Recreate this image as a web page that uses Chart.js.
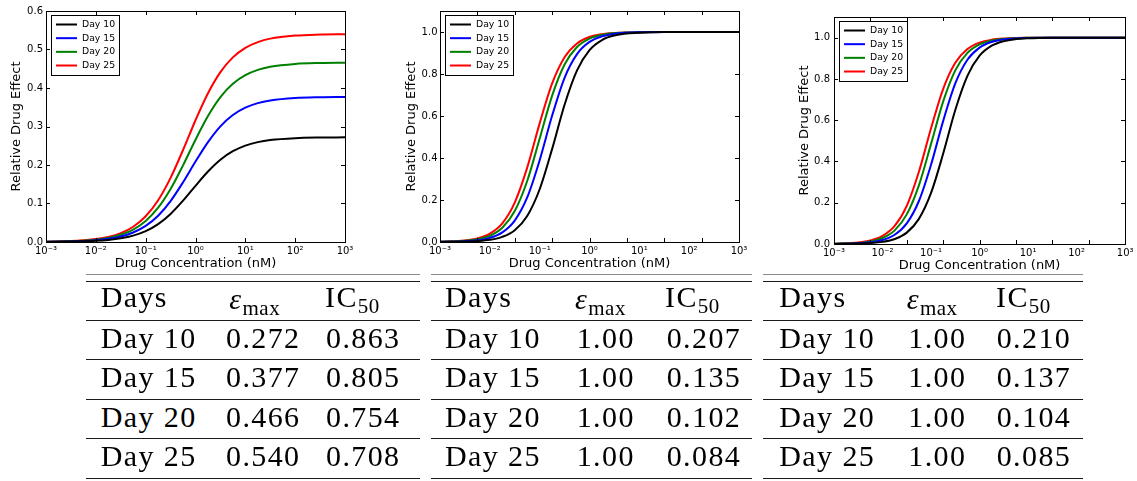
<!DOCTYPE html>
<html><head><meta charset="utf-8">
<script src="https://cdn.jsdelivr.net/npm/chart.js@4.4.1/dist/chart.umd.min.js"></script>
<style>
html,body{margin:0;padding:0;background:#fff;}
body{width:1137px;height:481px;overflow:hidden;position:relative;}
canvas{position:absolute;top:0;}
.rule{position:absolute;height:1px;background:#1a1a1a;}
.rule.thin{background:#8a8a8a;}
.cell{position:absolute;font-family:"Liberation Serif","Times New Roman",serif;font-size:30px;line-height:30px;white-space:nowrap;color:#000;letter-spacing:1.4px;}
.cell sub{font-size:21px;vertical-align:-6px;line-height:0;letter-spacing:0.5px;}
.cell i{font-style:italic;}
</style></head>
<body>
<canvas id="c1" width="390" height="275" style="left:0px"></canvas>
<canvas id="c2" width="390" height="275" style="left:390px"></canvas>
<canvas id="c3" width="357" height="275" style="left:780px"></canvas>
<div id="tables"></div>
<script>
// ---------------- data ----------------
const seriesNames = ['Day 10', 'Day 15', 'Day 20', 'Day 25'];
const seriesColors = ['#000000', '#0000ff', '#008000', '#ff0000'];
const concentrations = [0.001, 0.00316, 0.00562, 0.01, 0.0178, 0.0316, 0.0562, 0.1, 0.178, 0.316, 0.562, 1, 1.78, 3.16, 5.62, 10, 17.8, 31.6, 100, 316, 1000];

const black1 = [0.0003, 0.0010, 0.0018, 0.0031, 0.0055, 0.0096, 0.0166, 0.0282, 0.0465, 0.0729, 0.1073, 0.146, 0.1831, 0.2137, 0.2358, 0.2504, 0.2594, 0.2648, 0.2697, 0.2713, 0.2718];
const blue1  = [0.0005, 0.0015, 0.0026, 0.0046, 0.0082, 0.0142, 0.0246, 0.0417, 0.0683, 0.1063, 0.155, 0.2089, 0.2595, 0.3005, 0.3298, 0.3489, 0.3607, 0.3676, 0.374, 0.376, 0.3767];
const green1 = [0.0006, 0.0019, 0.0034, 0.0061, 0.0107, 0.0187, 0.0323, 0.0546, 0.089, 0.1376, 0.199, 0.2657, 0.3272, 0.3763, 0.4109, 0.4333, 0.447, 0.4551, 0.4625, 0.4649, 0.4657];
const red1   = [0.0008, 0.0024, 0.0043, 0.0075, 0.0132, 0.0231, 0.0397, 0.0668, 0.1085, 0.1666, 0.239, 0.3162, 0.3862, 0.4412, 0.4796, 0.5043, 0.5193, 0.5282, 0.5362, 0.5388, 0.5396];

const black2 = [0.0003, 0.0019, 0.0045, 0.0105, 0.0246, 0.0563, 0.124, 0.2513, 0.4433, 0.6537, 0.8174, 0.9139, 0.9618, 0.9835, 0.993, 0.997, 0.9987, 0.9995, 0.9999, 1.0, 1.0];
const blue2  = [0.0006, 0.0036, 0.0084, 0.0198, 0.0457, 0.1019, 0.2121, 0.3896, 0.6021, 0.7821, 0.8949, 0.9528, 0.9795, 0.9913, 0.9963, 0.9984, 0.9993, 0.9998, 1.0, 1.0, 1.0];
const green2 = [0.001, 0.0054, 0.0128, 0.0298, 0.0678, 0.1472, 0.2904, 0.4926, 0.6971, 0.8452, 0.9283, 0.9685, 0.9864, 0.9942, 0.9976, 0.999, 0.9996, 0.9999, 1.0, 1.0, 1.0];
const red2   = [0.0013, 0.0073, 0.017, 0.0395, 0.0888, 0.1877, 0.354, 0.565, 0.755, 0.8796, 0.9454, 0.9762, 0.9898, 0.9957, 0.9982, 0.9992, 0.9997, 0.9999, 1.0, 1.0, 1.0];

const black3 = [0.0003, 0.0019, 0.0044, 0.0103, 0.0241, 0.0552, 0.1218, 0.2474, 0.4382, 0.649, 0.8143, 0.9123, 0.961, 0.9832, 0.9929, 0.997, 0.9987, 0.9995, 0.9999, 1.0, 1.0];
const blue3  = [0.0006, 0.0035, 0.0082, 0.0194, 0.0447, 0.0999, 0.2084, 0.3843, 0.5968, 0.7783, 0.8928, 0.9518, 0.9791, 0.9912, 0.9963, 0.9984, 0.9993, 0.9998, 1.0, 1.0, 1.0];
const green3 = [0.0009, 0.0052, 0.0124, 0.029, 0.066, 0.1436, 0.2844, 0.4853, 0.691, 0.8414, 0.9264, 0.9676, 0.986, 0.994, 0.9975, 0.999, 0.9996, 0.9999, 1.0, 1.0, 1.0];
const red3   = [0.0013, 0.0072, 0.0167, 0.0389, 0.0874, 0.1851, 0.3501, 0.5608, 0.7518, 0.8778, 0.9445, 0.9758, 0.9896, 0.9956, 0.9982, 0.9992, 0.9997, 0.9999, 1.0, 1.0, 1.0];

const xTickValues = [0.001, 0.01, 0.1, 1, 10, 100, 1000];
const xTickLabels = ['10\u207B\u00B3', '10\u207B\u00B2', '10\u207B\u00B9', '10\u2070', '10\u00B9', '10\u00B2', '10\u00B3'];
const xMarks1 = [0.001, 0.01, 0.1, 1, 10, 100, 1000];
const xMarks23 = [0.001, 0.00562, 0.0316, 0.178, 1, 5.62, 31.6, 178, 1000];
const yTicks1 = [0, 0.1, 0.2, 0.3, 0.4, 0.5, 0.6];
const yTicks23 = [0, 0.2, 0.4, 0.6, 0.8, 1.0];
const xTitle = 'Drug Concentration (nM)';
const yTitle = 'Relative Drug Effect';

const tableHeaders = ['Days', 'emax', 'IC50'];
const tableDays = ['Day 10', 'Day 15', 'Day 20', 'Day 25'];
const emax1 = ['0.272', '0.377', '0.466', '0.540'];
const ic1 = ['0.863', '0.805', '0.754', '0.708'];
const emax2 = ['1.00', '1.00', '1.00', '1.00'];
const ic2 = ['0.207', '0.135', '0.102', '0.084'];
const emax3 = ['1.00', '1.00', '1.00', '1.00'];
const ic3 = ['0.210', '0.137', '0.104', '0.085'];

// ---------------- charts ----------------
const framePlugin = {
  id: 'frame',
  afterDatasetsDraw(chart, args, opts) {
    const {ctx, chartArea: a} = chart;
    const xs = chart.scales.x, ys = chart.scales.y;
    ctx.save();
    ctx.strokeStyle = '#000';
    ctx.lineWidth = 1;
    const L = Math.round(a.left), R = Math.round(a.right), T = Math.round(a.top), B = Math.round(a.bottom);
    ctx.strokeRect(L + 0.5, T + 0.5, R - L, B - T);
    const tl = 4;
    ctx.beginPath();
    opts.yMarks.forEach(v => {
      const py = Math.round(ys.getPixelForValue(v)) + 0.5;
      ctx.moveTo(L, py); ctx.lineTo(L + tl, py);
      ctx.moveTo(R, py); ctx.lineTo(R - tl, py);
    });
    opts.xMarks.forEach(v => {
      const px = Math.round(xs.getPixelForValue(v)) + 0.5;
      ctx.moveTo(px, B); ctx.lineTo(px, B - tl);
      ctx.moveTo(px, T); ctx.lineTo(px, T + tl);
    });
    ctx.stroke();
    // legend
    const bx = L + 5, by = T + 4, bw = 68, bh = 60;
    ctx.fillStyle = '#fff';
    ctx.fillRect(bx, by, bw, bh);
    ctx.strokeStyle = '#000';
    ctx.lineWidth = 1;
    ctx.strokeRect(bx + 0.5, by + 0.5, bw, bh);
    ctx.font = '9.3px "DejaVu Sans"';
    ctx.textBaseline = 'middle';
    ctx.textAlign = 'left';
    chart.data.datasets.forEach((ds, i) => {
      const ry = by + 9.5 + i * 13.67;
      ctx.strokeStyle = ds.borderColor;
      ctx.lineWidth = 2;
      ctx.beginPath();
      ctx.moveTo(bx + 5, ry); ctx.lineTo(bx + 26, ry);
      ctx.stroke();
      ctx.fillStyle = '#000';
      ctx.fillText(ds.label, bx + 31, ry);
    });
    ctx.restore();
  }
};

function makeChart(id, seriesList, cfg) {
  const datasets = seriesList.map((vals, i) => ({
    label: seriesNames[i],
    data: concentrations.map((c, k) => ({x: c, y: vals[k]})),
    borderColor: seriesColors[i],
    backgroundColor: seriesColors[i],
    borderWidth: 2,
    pointRadius: 0,
    fill: false,
    cubicInterpolationMode: 'monotone'
  }));
  new Chart(document.getElementById(id), {
    type: 'line',
    data: {datasets},
    plugins: [framePlugin],
    options: {
      responsive: false,
      animation: false,
      devicePixelRatio: 1,
      layout: {padding: {left: 0, right: cfg.padRight, top: cfg.padTop, bottom: 0}},
      plugins: {
        legend: {display: false},
        tooltip: {enabled: false},
        frame: {xMarks: cfg.xMarks, yMarks: cfg.yTicks}
      },
      scales: {
        x: {
          type: 'logarithmic', min: 0.001, max: 1000,
          grid: {display: false, drawTicks: false},
          border: {display: false},
          afterBuildTicks: s => { s.ticks = xTickValues.map(v => ({value: v})); },
          afterFit: s => { s.height = cfg.xAxisH; },
          ticks: {
            font: {family: 'DejaVu Sans', size: 10}, color: '#000', padding: 3.5,
            maxRotation: 0, minRotation: 0, autoSkip: false,
            callback: (v, i) => xTickLabels[i]
          },
          title: {display: true, text: xTitle, color: '#000',
                  font: {family: 'DejaVu Sans', size: 13},
                  padding: {top: 0, bottom: cfg.xTitlePad}}
        },
        y: {
          type: 'linear', min: 0, max: cfg.yMax,
          grid: {display: false, drawTicks: false},
          border: {display: false},
          afterBuildTicks: s => { s.ticks = cfg.yTicks.map(v => ({value: v})); },
          afterFit: s => { s.width = cfg.yAxisW; },
          ticks: {
            font: {family: 'DejaVu Sans', size: 10}, color: '#000', padding: cfg.yTickPad,
            autoSkip: false, callback: v => Number(v).toFixed(1)
          },
          title: {display: true, text: yTitle, color: '#000',
                  font: {family: 'DejaVu Sans', size: 13},
                  padding: {top: cfg.yTitlePad, bottom: 0}}
        }
      }
    }
  });
}

makeChart('c1', [black1, blue1, green1, red1], {
  padRight: 45, padTop: 11, xAxisH: 33, yAxisW: 46, yMax: 0.6, yTicks: yTicks1,
  xMarks: xMarks1, xTitlePad: 3.9, yTitlePad: 9.2, yTickPad: 3
});
makeChart('c2', [black2, blue2, green2, red2], {
  padRight: 41, padTop: 11, xAxisH: 33, yAxisW: 50, yMax: 1.1, yTicks: yTicks23,
  xMarks: xMarks23, xTitlePad: 3.9, yTitlePad: 13.9, yTickPad: 2.5
});
makeChart('c3', [black3, blue3, green3, red3], {
  padRight: 10, padTop: 17, xAxisH: 31, yAxisW: 54, yMax: 1.1, yTicks: yTicks23,
  xMarks: xMarks23, xTitlePad: 1.5, yTitlePad: 17.2, yTickPad: 4
});

// ---------------- tables ----------------
const tablesLayout = [
  {x0: 86, x1: 420, days: 100.7, emH: 229.3, emV: 226, icH: 325, icV: 326, emax: emax1, ic: ic1},
  {x0: 431, x1: 752, days: 445, emH: 575, emV: 576.7, icH: 665, icV: 666.7, emax: emax2, ic: ic2},
  {x0: 763, x1: 1083, days: 779.3, emH: 906.7, emV: 908.3, icH: 996, icV: 996.7, emax: emax3, ic: ic3}
];
const ruleTops = [281, 320, 359, 399, 438, 478];
const headerBase = 307;
const rowBases = [347.7, 387.2, 426.7, 466.2];
const baseOffset = 25.1;
const host = document.getElementById('tables');
function addCell(x, base, html) {
  const d = document.createElement('div');
  d.className = 'cell';
  d.style.left = x + 'px';
  d.style.top = (base - baseOffset) + 'px';
  d.innerHTML = html;
  host.appendChild(d);
}
tablesLayout.forEach(t => {
  const thin = document.createElement('div');
  thin.className = 'rule thin';
  thin.style.left = t.x0 + 'px'; thin.style.width = (t.x1 - t.x0) + 'px'; thin.style.top = '274px';
  host.appendChild(thin);
  ruleTops.forEach(y => {
    const r = document.createElement('div');
    r.className = 'rule';
    r.style.left = t.x0 + 'px'; r.style.width = (t.x1 - t.x0) + 'px'; r.style.top = y + 'px';
    host.appendChild(r);
  });
  addCell(t.days, headerBase, tableHeaders[0]);
  addCell(t.emH, headerBase + 2, '<i>\u03B5</i><sub>max</sub>');
  addCell(t.icH, headerBase, 'IC<sub>50</sub>');
  tableDays.forEach((d, i) => {
    addCell(t.days, rowBases[i], d);
    addCell(t.emV, rowBases[i], t.emax[i]);
    addCell(t.icV, rowBases[i], t.ic[i]);
  });
});
</script>
</body></html>
